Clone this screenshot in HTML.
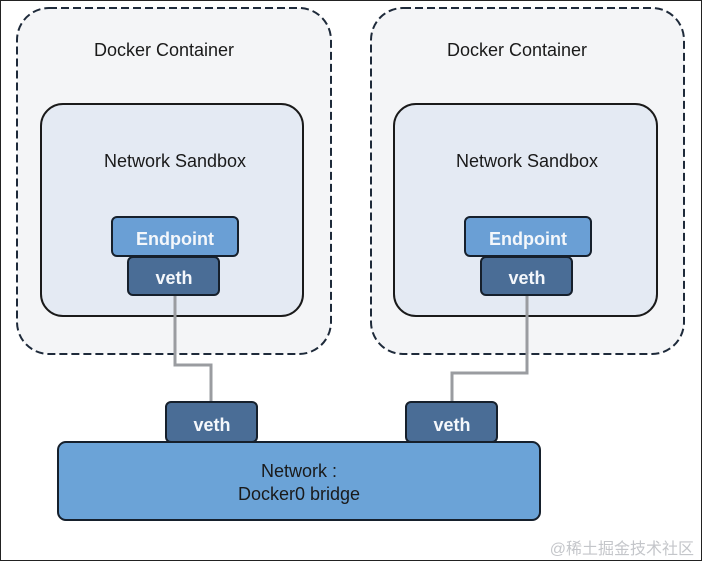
<!DOCTYPE html>
<html><head><meta charset="utf-8"><style>
html,body{margin:0;padding:0;background:#fff;}
svg{display:block;}
text{font-family:"Liberation Sans","Noto Sans CJK SC",sans-serif;}
</style></head><body>
<svg width="702" height="561" viewBox="0 0 702 561" xmlns="http://www.w3.org/2000/svg">
<rect x="0.5" y="0.5" width="701" height="560" fill="#fff" stroke="#222" stroke-width="1"/>
<rect x="17" y="8" width="314" height="346" rx="32" fill="#f4f5f7" stroke="#1e2a3a" stroke-width="2" stroke-dasharray="8,4"/>
<rect x="371" y="8" width="313" height="346" rx="32" fill="#f4f5f7" stroke="#1e2a3a" stroke-width="2" stroke-dasharray="8,4"/>
<text x="164" y="56" font-size="18" text-anchor="middle" fill="#1a1a1a">Docker Container</text>
<text x="517" y="56" font-size="18" text-anchor="middle" fill="#1a1a1a">Docker Container</text>
<rect x="41" y="104" width="262" height="212" rx="22" fill="#e4eaf3" stroke="#1a1a1a" stroke-width="2"/>
<rect x="394" y="104" width="263" height="212" rx="22" fill="#e4eaf3" stroke="#1a1a1a" stroke-width="2"/>
<text x="175" y="167" font-size="18" text-anchor="middle" fill="#1a1a1a">Network Sandbox</text>
<text x="527" y="167" font-size="18" text-anchor="middle" fill="#1a1a1a">Network Sandbox</text>
<polyline points="175,295 175,365 211,365 211,402" fill="none" stroke="#9a9ca0" stroke-width="3"/>
<polyline points="527,295 527,373 452,373 452,402" fill="none" stroke="#9a9ca0" stroke-width="3"/>
<rect x="112" y="217" width="126" height="39" rx="5" fill="#6a9fd5" stroke="#16202c" stroke-width="2"/>
<rect x="465" y="217" width="126" height="39" rx="5" fill="#6a9fd5" stroke="#16202c" stroke-width="2"/>
<text x="175" y="245" font-size="18" text-anchor="middle" fill="#f4f7fb" font-weight="bold" style="font-weight:600">Endpoint</text>
<text x="528" y="245" font-size="18" text-anchor="middle" fill="#f4f7fb" style="font-weight:600">Endpoint</text>
<rect x="128" y="257" width="91" height="38" rx="5" fill="#4a6d96" stroke="#16202c" stroke-width="2"/>
<rect x="481" y="257" width="91" height="38" rx="5" fill="#4a6d96" stroke="#16202c" stroke-width="2"/>
<text x="174" y="284" font-size="18" text-anchor="middle" fill="#f4f7fb" font-weight="bold">veth</text>
<text x="527" y="284" font-size="18" text-anchor="middle" fill="#f4f7fb" font-weight="bold">veth</text>
<rect x="166" y="402" width="91" height="40" rx="5" fill="#4a6d96" stroke="#16202c" stroke-width="2"/>
<rect x="406" y="402" width="91" height="40" rx="5" fill="#4a6d96" stroke="#16202c" stroke-width="2"/>
<text x="212" y="431" font-size="18" text-anchor="middle" fill="#f4f7fb" font-weight="bold">veth</text>
<text x="452" y="431" font-size="18" text-anchor="middle" fill="#f4f7fb" font-weight="bold">veth</text>
<rect x="58" y="442" width="482" height="78" rx="8" fill="#6ba3d7" stroke="#16202c" stroke-width="2"/>
<text x="299" y="477" font-size="18" text-anchor="middle" fill="#1a1a1a">Network :</text>
<text x="299" y="500" font-size="18" text-anchor="middle" fill="#1a1a1a">Docker0 bridge</text>
<text x="694" y="554" font-size="16" text-anchor="end" fill="#c4c6ca">@稀土掘金技术社区</text>
</svg>
</body></html>
